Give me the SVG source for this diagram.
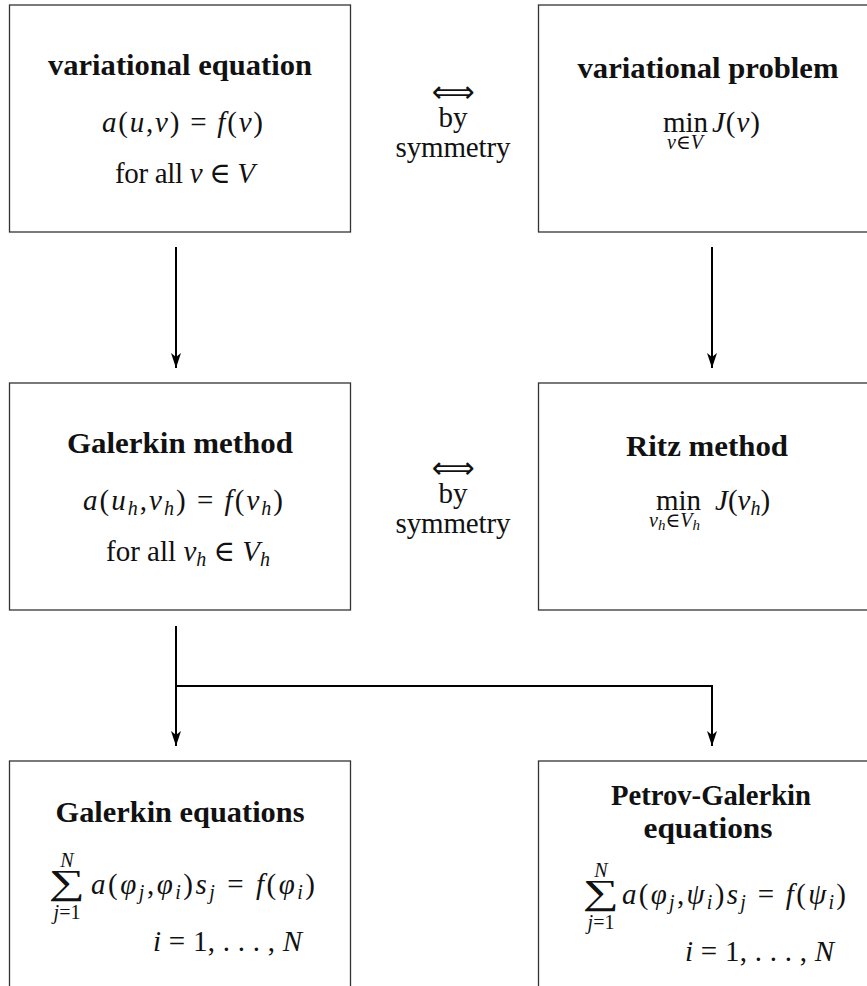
<svg xmlns="http://www.w3.org/2000/svg" width="867" height="986" viewBox="0 0 867 986">
<style>
.box{fill:#fff;stroke:#333;stroke-width:1.3}
.t{font-family:"Liberation Serif","DejaVu Serif",serif;fill:#111}
.b{font-weight:bold;font-size:29px}
.m{font-size:29px}
.s{font-size:20px}
.ss{font-size:15px}
.i{font-style:italic}
.c{text-anchor:middle}
.sum{font-family:"Liberation Serif","DejaVu Serif",serif;fill:#111;font-size:35px;text-anchor:middle}
.arr{font-family:"DejaVu Sans",sans-serif;font-size:30px;fill:#111;text-anchor:middle}
.conn{stroke:#000;stroke-width:2;fill:none}
</style>
<defs>
<marker id="ah" markerUnits="userSpaceOnUse" markerWidth="16" markerHeight="12" viewBox="0 0 16 12" refX="15" refY="6" orient="auto">
<path d="M0,1 L15,6 L0,11 L4,6 Z" fill="#000"/>
</marker>
</defs>
<rect width="867" height="986" fill="#fff"/>

<g id="n1">
<rect class="box" x="9.5" y="5" width="341" height="227"/>
<text class="t b c" x="180" y="75" textLength="264" lengthAdjust="spacingAndGlyphs">variational equation</text>
<text class="t m" x="102" y="132" textLength="161" lengthAdjust="spacing"><tspan class="i">a</tspan>(<tspan class="i">u</tspan>,<tspan class="i">v</tspan>) = <tspan class="i">f</tspan>(<tspan class="i">v</tspan>)</text>
<text class="t m" x="115" y="183" textLength="140" lengthAdjust="spacing">for all <tspan class="i">v</tspan> ∈ <tspan class="i">V</tspan></text>
</g>

<g id="sym1">
<text class="arr" x="453" y="102" textLength="43" lengthAdjust="spacingAndGlyphs">⟺</text>
<text class="t m c" x="453" y="127">by</text>
<text class="t m c" x="453" y="157" textLength="115" lengthAdjust="spacing">symmetry</text>
</g>

<g id="n2">
<rect class="box" x="538.5" y="5" width="341" height="227"/>
<text class="t b c" x="708" y="78" textLength="261" lengthAdjust="spacingAndGlyphs">variational problem</text>
<text class="t m" x="663" y="132">min</text>
<text class="t m i" x="712" y="132" textLength="48" lengthAdjust="spacing">J<tspan font-style="normal">(</tspan>v<tspan font-style="normal">)</tspan></text>
<text class="t s c i" x="685" y="149">v<tspan font-style="normal">∈</tspan>V</text>
</g>

<g id="n3">
<rect class="box" x="9.5" y="383" width="341" height="227"/>
<text class="t b c" x="180" y="453" textLength="226" lengthAdjust="spacingAndGlyphs">Galerkin method</text>
<text class="t m" x="83" y="510" textLength="200" lengthAdjust="spacing"><tspan class="i">a</tspan>(<tspan class="i">u</tspan><tspan class="s i" dy="5">h</tspan><tspan dy="-5">,</tspan><tspan class="i">v</tspan><tspan class="s i" dy="5">h</tspan><tspan dy="-5">) = </tspan><tspan class="i">f</tspan>(<tspan class="i">v</tspan><tspan class="s i" dy="5">h</tspan><tspan dy="-5">)</tspan></text>
<text class="t m" x="106" y="561" textLength="164" lengthAdjust="spacing">for all <tspan class="i">v</tspan><tspan class="s i" dy="5">h</tspan><tspan dy="-5"> ∈ </tspan><tspan class="i">V</tspan><tspan class="s i" dy="5">h</tspan></text>
</g>

<g id="sym2">
<text class="arr" x="453" y="478" textLength="43" lengthAdjust="spacingAndGlyphs">⟺</text>
<text class="t m c" x="453" y="503">by</text>
<text class="t m c" x="453" y="533" textLength="115" lengthAdjust="spacing">symmetry</text>
</g>

<g id="n4">
<rect class="box" x="538.5" y="383" width="341" height="227"/>
<text class="t b c" x="707" y="456" textLength="162" lengthAdjust="spacingAndGlyphs">Ritz method</text>
<text class="t m" x="656" y="510">min</text>
<text class="t m i" x="715" y="510">J<tspan font-style="normal">(</tspan>v<tspan class="s" dy="5">h</tspan><tspan font-style="normal" dy="-5">)</tspan></text>
<text class="t s i" x="649" y="527">v<tspan class="ss" dy="3">h</tspan><tspan font-style="normal" dy="-3">∈</tspan>V<tspan class="ss" dy="3">h</tspan></text>
</g>

<g id="n5">
<rect class="box" x="9.5" y="761" width="341" height="240"/>
<text class="t b c" x="180" y="822" textLength="249" lengthAdjust="spacingAndGlyphs">Galerkin equations</text>
<text class="t s c i" x="67" y="867">N</text>
<text class="sum" transform="translate(67,894) scale(1.45,1)">∑</text>
<text class="t s c" x="67" y="919"><tspan class="i">j</tspan>=1</text>
<text class="t m" x="91" y="894" textLength="224" lengthAdjust="spacing"><tspan class="i">a</tspan>(<tspan class="i">φ</tspan><tspan class="s i" dy="5">j</tspan><tspan dy="-5">,</tspan><tspan class="i">φ</tspan><tspan class="s i" dy="5">i</tspan><tspan dy="-5">)</tspan><tspan class="i">s</tspan><tspan class="s i" dy="5">j</tspan><tspan dy="-5"> = </tspan><tspan class="i">f</tspan>(<tspan class="i">φ</tspan><tspan class="s i" dy="5">i</tspan><tspan dy="-5">)</tspan></text>
<text class="t m" x="153" y="951" textLength="149" lengthAdjust="spacing"><tspan class="i">i</tspan> = 1, . . . , <tspan class="i">N</tspan></text>
</g>

<g id="n6">
<rect class="box" x="538.5" y="761" width="341" height="240"/>
<text class="t b c" x="711" y="805" textLength="200" lengthAdjust="spacingAndGlyphs">Petrov-Galerkin</text>
<text class="t b c" x="708" y="838" textLength="129" lengthAdjust="spacingAndGlyphs">equations</text>
<text class="t s c i" x="601" y="877">N</text>
<text class="sum" transform="translate(601,904) scale(1.45,1)">∑</text>
<text class="t s c" x="601" y="929"><tspan class="i">j</tspan>=1</text>
<text class="t m" x="622" y="904" textLength="224" lengthAdjust="spacing"><tspan class="i">a</tspan>(<tspan class="i">φ</tspan><tspan class="s i" dy="5">j</tspan><tspan dy="-5">,</tspan><tspan class="i">ψ</tspan><tspan class="s i" dy="5">i</tspan><tspan dy="-5">)</tspan><tspan class="i">s</tspan><tspan class="s i" dy="5">j</tspan><tspan dy="-5"> = </tspan><tspan class="i">f</tspan>(<tspan class="i">ψ</tspan><tspan class="s i" dy="5">i</tspan><tspan dy="-5">)</tspan></text>
<text class="t m" x="685" y="961" textLength="149" lengthAdjust="spacing"><tspan class="i">i</tspan> = 1, . . . , <tspan class="i">N</tspan></text>
</g>

<g id="connectors">
<line class="conn" x1="176" y1="247" x2="176" y2="368" marker-end="url(#ah)"/>
<line class="conn" x1="712" y1="247" x2="712" y2="368" marker-end="url(#ah)"/>
<line class="conn" x1="176" y1="626" x2="176" y2="746" marker-end="url(#ah)"/>
<polyline class="conn" points="176,686 712,686 712,746" marker-end="url(#ah)"/>
</g>
</svg>
